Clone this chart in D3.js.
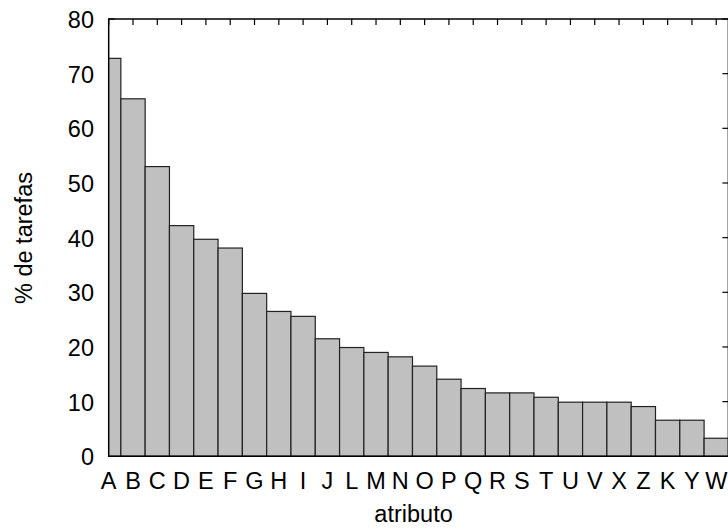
<!DOCTYPE html>
<html><head><meta charset="utf-8">
<script src="https://cdn.jsdelivr.net/npm/d3@7"></script>
<style>
html,body{margin:0;padding:0;background:#fff;overflow:hidden;}
text{font-family:"Liberation Sans",Arial,sans-serif;fill:#000;}
</style></head>
<body>
<script>
const categories = ["A","B","C","D","E","F","G","H","I","J","L","M","N","O","P","Q","R","S","T","U","V","X","Z","K","Y","W"];
const values = [72.8,65.4,53.0,42.2,39.7,38.1,29.8,26.5,25.6,21.5,19.9,19.0,18.2,16.5,14.1,12.4,11.6,11.6,10.8,9.9,9.9,9.9,9.1,6.6,6.6,3.3];
const yTicks = [0,10,20,30,40,50,60,70,80];
const xTitle = "atributo";
const yTitle = "% de tarefas";

(function(){
const W = 728, H = 529;
const pL = 108.7, pR = 728.4, pT = 19, pB = 456.3;
const fs = 23.5;

const svg = d3.select("body").append("svg").attr("width", W).attr("height", H);
const x = d3.scaleLinear().domain([0, 25.5]).range([pL, pR]);
const y = d3.scaleLinear().domain([0, 80]).range([pB, pT]);

svg.append("defs").append("clipPath").attr("id","clip")
  .append("rect").attr("x", pL).attr("y", pT).attr("width", pR-pL).attr("height", pB-pT);

const tl = 6;
const tg = svg.append("g").attr("stroke","#000").attr("stroke-width",1.2);
categories.forEach((c,i)=>{
  tg.append("line").attr("x1",x(i)).attr("x2",x(i)).attr("y1",pT).attr("y2",pT+tl);
  tg.append("line").attr("x1",x(i)).attr("x2",x(i)).attr("y1",pB).attr("y2",pB-tl);
});
yTicks.forEach(t=>{
  tg.append("line").attr("x1",pL).attr("x2",pL+tl).attr("y1",y(t)).attr("y2",y(t));
  tg.append("line").attr("x1",pR).attr("x2",pR-tl).attr("y1",y(t)).attr("y2",y(t));
});

svg.append("g").attr("clip-path","url(#clip)")
  .selectAll("rect").data(values).join("rect")
  .attr("x",(d,i)=>x(i-0.5)).attr("width",x(1)-x(0))
  .attr("y",d=>y(d)).attr("height",d=>y(0)-y(d))
  .attr("fill","#c0c0c0").attr("stroke","#222").attr("stroke-width",1.2);

svg.append("path")
  .attr("d",`M${pR},${pT}H${pL}V${pB}H${pR}V${pT}`)
  .attr("fill","none").attr("stroke","#000").attr("stroke-width",1.5);

svg.append("g").selectAll("text").data(yTicks).join("text")
  .attr("x",94).attr("y",d=>y(d)).attr("dy","0.39em")
  .attr("text-anchor","end").attr("font-size",fs).text(d=>d);

svg.append("g").selectAll("text").data(categories).join("text")
  .attr("x",(d,i)=>x(i)).attr("y",489)
  .attr("text-anchor","middle").attr("font-size",fs).text(d=>d);

svg.append("text").attr("x",(pL+pR)/2-5).attr("y",522)
  .attr("text-anchor","middle").attr("font-size",fs).text(xTitle);
svg.append("text").attr("transform",`translate(32,238) rotate(-90)`)
  .attr("text-anchor","middle").attr("font-size",fs).text(yTitle);
})();
</script>
</body></html>
